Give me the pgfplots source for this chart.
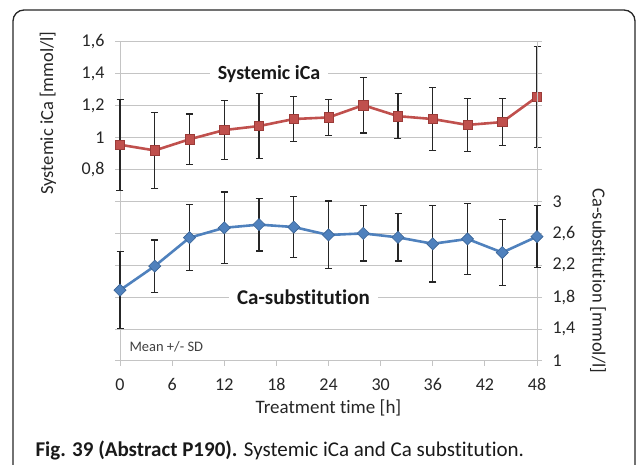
\documentclass[border=0pt]{standalone}
\usepackage{pgfplots}
\pgfplotsset{compat=1.18}
\usepackage{fontspec}
\setmainfont{Carlito}[Ligatures={NoCommon,NoRare,NoContextual}]
\definecolor{redS}{HTML}{C0504D}
\definecolor{redE}{HTML}{9B3B38}
\definecolor{blueS}{HTML}{4F81BD}
\definecolor{blueE}{HTML}{3A6496}
\definecolor{gridc}{HTML}{C4C4C4}
\definecolor{txt}{HTML}{262626}
\pgfplotstableread{
x y e
0 0.956 0.285
4 0.920 0.240
8 0.990 0.158
12 1.048 0.185
16 1.073 0.205
20 1.117 0.142
24 1.127 0.113
28 1.204 0.175
32 1.135 0.141
36 1.117 0.198
40 1.080 0.168
44 1.098 0.148
48 1.256 0.318
}\iCa
\pgfplotstableread{
x y e
0 1.888 0.482
4 2.190 0.328
8 2.546 0.415
12 2.670 0.450
16 2.710 0.330
20 2.680 0.385
24 2.580 0.425
28 2.600 0.345
32 2.550 0.295
36 2.470 0.480
40 2.530 0.445
44 2.360 0.413
48 2.560 0.385
}\CaSub
\begin{document}
\begin{tikzpicture}[x=1pt,y=1pt]
\useasboundingbox (0,0) rectangle (638,465);
\draw[line width=1.3pt, black!85, rounded corners=11pt] (13,-20) -- (13,455) -- (635,455) -- (635,-20);
\pgfplotsset{common/.style={scale only axis, width=417pt, height=319pt, xmin=0, xmax=48,
  at={(120pt,104pt)}, anchor=south west, tick align=outside, major tick length=5pt,
  tick style={gridc, line width=1pt}, axis line style={gridc, line width=1pt},
  /pgf/number format/assume math mode=true, /pgf/number format/use comma,
  ticklabel style={font=\fontsize{18}{18}\selectfont, text=txt},
  clip=false}}
\begin{axis}[common, ymin=-0.4, ymax=1.6,
  ytick={0.8,1,1.2,1.4,1.6},
  extra y ticks={-0.4,-0.2,0,0.2,0.4,0.6}, extra y tick labels={},
  extra y tick style={ymajorgrids=true},
  ymajorgrids, grid style={gridc, line width=1pt},
  ytick pos=left, xtick={0,6,...,48}, xtick pos=bottom,
  xticklabel style={yshift=-9pt}, yticklabel style={xshift=-7pt}]
\addplot[redS, line width=2.6pt, mark=square*, mark size=4.7pt,
  mark options={fill=redS, draw=redE, line width=0.6pt},
  error bars/.cd, y dir=both, y explicit,
  error bar style={black!85, line width=1.2pt},
  error mark options={rotate=90, mark size=3.5pt, black!85, line width=1.2pt}]
  table[x=x, y=y, y error=e] {\iCa};
\node[fill=white, inner xsep=8pt, inner ysep=2pt, font=\bfseries\fontsize{20}{20}\selectfont, text=black!90] at (axis cs:17.15,1.4) {Systemic iCa};
\node[fill=white, inner xsep=8pt, inner ysep=2pt, font=\bfseries\fontsize{21}{21}\selectfont, text=black!90] at (axis cs:21.12,0) {Ca-substitution};
\end{axis}
\begin{axis}[common, ymin=1, ymax=5,
  ytick={1,1.4,1.8,2.2,2.6,3},
  extra y ticks={3.4,3.8,4.2,4.6,5}, extra y tick labels={},
  axis y line*=right, axis x line=none, yticklabel style={xshift=7pt}]
\addplot[blueS, line width=2.6pt, mark=square*, mark size=4.3pt,
  mark options={rotate=45, fill=blueS, draw=blueE, line width=0.6pt},
  error bars/.cd, y dir=both, y explicit,
  error bar style={black!85, line width=1.2pt},
  error mark options={rotate=90, mark size=3.5pt, black!85, line width=1.2pt}]
  table[x=x, y=y, y error=e] {\CaSub};
\end{axis}
\node[font=\fontsize{19}{19}\selectfont, text=txt] at (328.5,57) {Treatment time [h]};
\node[rotate=90, font=\fontsize{18.5}{18.5}\selectfont, text=txt] at (48,352) {Systemic iCa [mmol/l]};
\node[rotate=-90, font=\fontsize{18.5}{18.5}\selectfont, text=txt] at (598,184) {Ca-substitution [mmol/l]};
\node[anchor=west, font=\fontsize{14.5}{14.5}\selectfont, text=black!75] at (126,118) {Mean +/- SD};
\node[anchor=base west, font=\fontsize{21}{21}\selectfont, text=black!90] at (32,8) {\textbf{Fig. 39 (Abstract P190).} Systemic iCa and Ca substitution.};
\end{tikzpicture}
\end{document}
